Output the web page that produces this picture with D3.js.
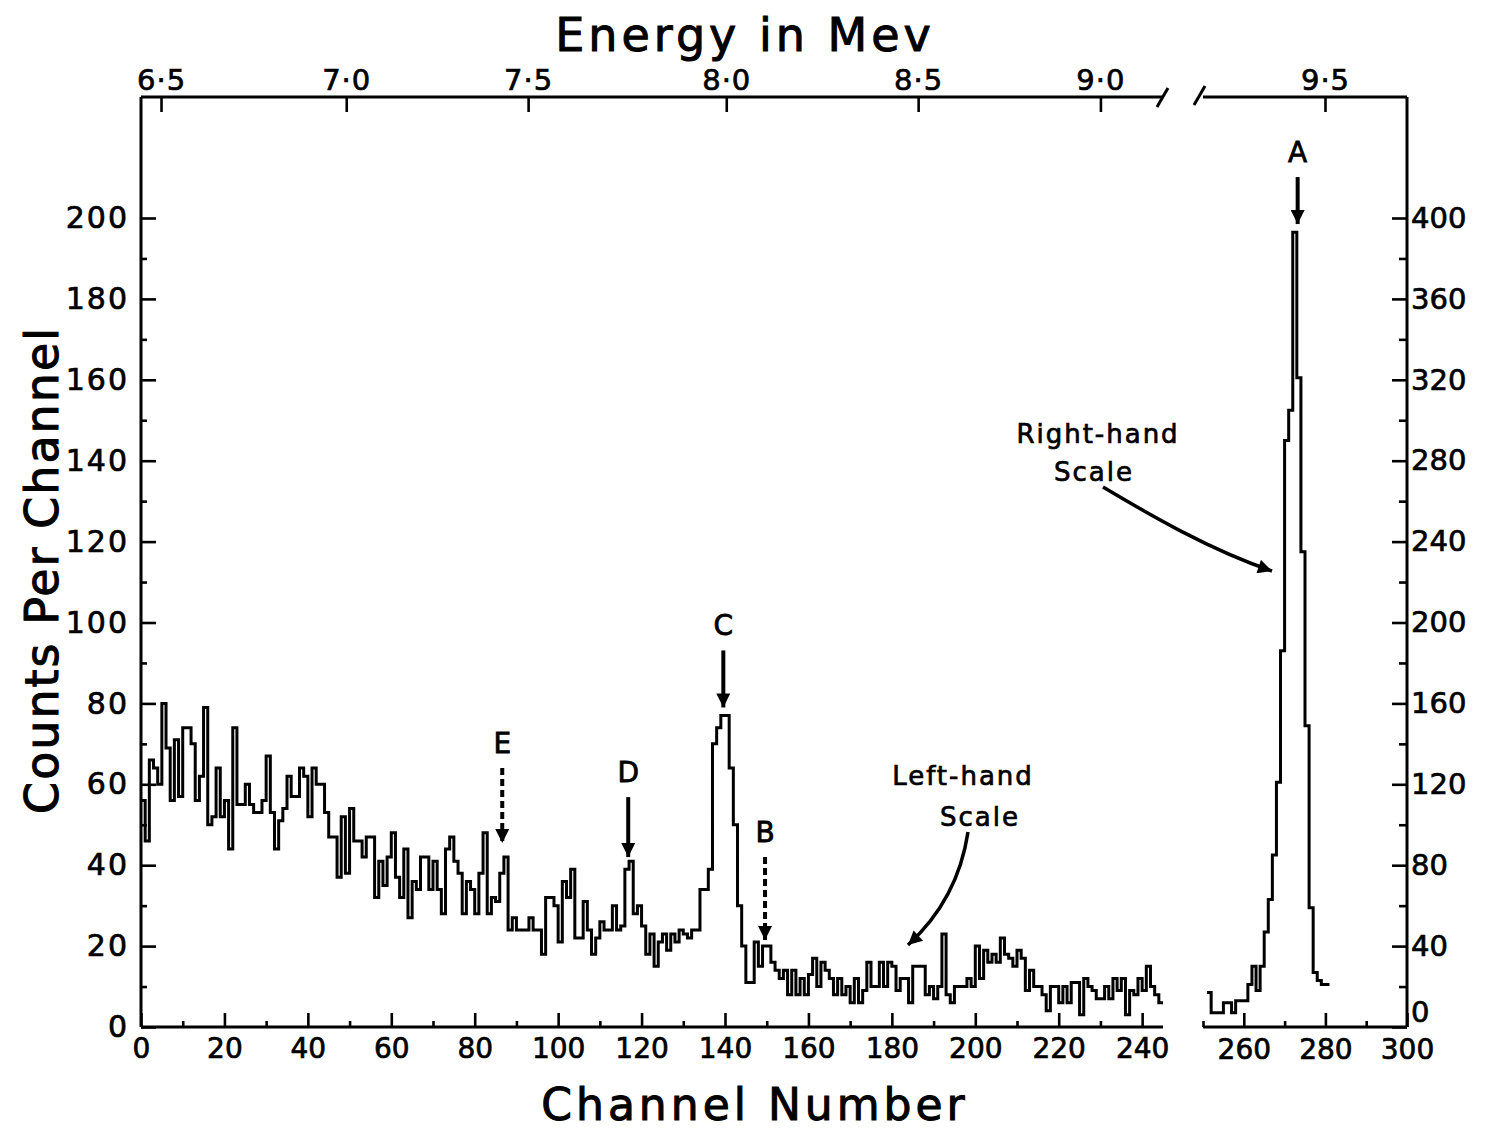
<!DOCTYPE html>
<html>
<head>
<meta charset="utf-8">
<script src="https://cdn.jsdelivr.net/npm/d3@7"></script>
<style>
  body { margin: 0; background: #fff; }
  svg text { font-family: "DejaVu Sans", sans-serif; fill: #000; }
</style>
</head>
<body>
<div id="chart"></div>
<script>
// counts per channel, channels 0-244 (left-hand scale)
var leftCounts = [
  56, 46, 66, 64, 60, 80, 69, 56, 71, 57,
  74, 74, 70, 56, 62, 79, 50, 52, 64, 52,
  56, 44, 74, 55, 55, 60, 55, 53, 53, 56,
  67, 53, 44, 51, 54, 62, 57, 57, 64, 62,
  52, 64, 60, 60, 53, 47, 47, 37, 52, 38,
  54, 46, 46, 42, 47, 47, 32, 41, 35, 42,
  48, 37, 32, 44, 27, 36, 34, 42, 42, 34,
  41, 34, 28, 44, 47, 41, 38, 28, 36, 34,
  28, 38, 48, 28, 32, 31, 38, 42, 24, 27,
  24, 24, 24, 27, 24, 24, 18, 32, 32, 30,
  21, 36, 32, 39, 22, 22, 31, 24, 18, 22,
  26, 24, 24, 30, 24, 25, 39, 41, 28, 30,
  25, 18, 23, 15, 21, 23, 19, 23, 21, 24,
  23, 22, 24, 24, 34, 34, 39, 70, 74, 77,
  77, 64, 50, 30, 20, 11, 11, 21, 15, 20,
  20, 16, 14, 12, 14, 8, 14, 8, 12, 8,
  13, 17, 10, 16, 14, 12, 8, 12, 8, 10,
  6, 12, 6, 9, 16, 10, 10, 16, 10, 16,
  15, 9, 12, 12, 6, 15, 15, 15, 8, 10,
  7, 10, 23, 8, 6, 10, 10, 10, 12, 10,
  20, 12, 19, 16, 18, 16, 22, 18, 17, 15,
  19, 17, 9, 14, 10, 10, 8, 4, 10, 10,
  6, 10, 6, 11, 11, 3, 12, 10, 9, 7,
  7, 10, 7, 12, 9, 12, 3, 9, 8, 12,
  9, 15, 10, 8, 6
];

// counts per channel, channels 251-280 (right-hand scale)
var rightFirstChannel = 251;
var rightCounts = [
  17, 7, 7, 7, 12, 12, 7, 13, 13, 13,
  21, 30, 18, 30, 47, 63, 85, 121, 186, 290,
  305, 393, 321, 235, 149, 59, 27, 23, 21, 21
];

var leftTicks = d3.range(0, 201, 20);
var rightTicks = d3.range(0, 401, 40);
var channelTicksLeft = d3.range(0, 241, 20);
var channelTicksRight = [260, 280, 300];

var energyValues = [6.5, 7.0, 7.5, 8.0, 8.5, 9.0, 9.5];
var energyLabels = ["6·5", "7·0", "7·5", "8·0", "8·5", "9·0", "9·5"];
var energyChannels = [4.8, 49.2, 92.8, 140.3, 186.3, 230.0, 279.9];

var peakNames = ["A", "B", "C", "D", "E"];
var peakChannels = [273.2, 149.6, 139.6, 116.8, 86.6];
var peakTips = [397, 21.5, 79, 42, 45.5];   // A is read on the right-hand scale
var peakDashed = [false, true, false, false, true];

var width = 1491, height = 1130;
var plot = { left: 141, right: 1407, top: 97, bottom: 1027, breakL: 1163, breakR: 1203 };

var svg = d3.select("#chart").append("svg")
    .attr("width", width)
    .attr("height", height);

// scales (broken channel axis)
var xL = d3.scaleLinear().domain([0, 245]).range([plot.left, plot.breakL]);
var xR = d3.scaleLinear().domain([250, 300]).range([plot.breakR, plot.right]);
var yL = d3.scaleLinear().domain([0, 200]).range([plot.bottom, 218]);
var yR = d3.scaleLinear().domain([0, 400]).range([plot.bottom, 218]);

var xE = d3.scaleLinear()
    .domain(energyValues)
    .range(energyChannels.map(function(c) { return c < 250 ? xL(c) : xR(c); }));

function tidy(g, size) {
  g.select(".domain").remove();
  g.attr("font-family", "DejaVu Sans, sans-serif").attr("font-size", size);
  g.selectAll("line").attr("stroke", "#000").attr("stroke-width", 2.6);
  g.selectAll("text").attr("fill", "#000").attr("stroke", "#000").attr("stroke-width", 0.7);
}

// left axis
svg.append("g").attr("transform", "translate(" + plot.left + ",0)")
    .call(d3.axisLeft(yL).tickValues(d3.range(10, 200, 20)).tickSize(-6).tickFormat(""))
    .call(tidy, 30);
svg.append("g").attr("transform", "translate(" + plot.left + ",0)")
    .call(d3.axisLeft(yL).tickValues(leftTicks).tickSize(-15).tickPadding(12))
    .call(tidy, 30)
    .selectAll("text").attr("letter-spacing", 2);

// right axis
svg.append("g").attr("transform", "translate(" + plot.right + ",0)")
    .call(d3.axisRight(yR).tickValues(d3.range(20, 400, 40)).tickSize(-8).tickFormat(""))
    .call(tidy, 29);
var rAxis = svg.append("g").attr("transform", "translate(" + plot.right + ",0)")
    .call(d3.axisRight(yR).tickValues(rightTicks).tickSize(-15).tickPadding(4))
    .call(tidy, 29);
rAxis.selectAll("text")
    .filter(function(d) { return d === 0; }).attr("dy", "-0.2em");

// bottom axis, left part
svg.append("g").attr("transform", "translate(0," + plot.bottom + ")")
    .call(d3.axisBottom(xL).tickValues(d3.range(10, 240, 20)).tickSize(-6).tickFormat(""))
    .call(tidy, 28);
svg.append("g").attr("transform", "translate(0," + plot.bottom + ")")
    .call(d3.axisBottom(xL).tickValues(channelTicksLeft).tickSize(-14).tickPadding(11))
    .call(tidy, 28);

// bottom axis, right part
svg.append("g").attr("transform", "translate(0," + plot.bottom + ")")
    .call(d3.axisBottom(xR).tickValues([250, 270, 290]).tickSize(-6).tickFormat(""))
    .call(tidy, 28);
svg.append("g").attr("transform", "translate(0," + plot.bottom + ")")
    .call(d3.axisBottom(xR).tickValues(channelTicksRight).tickSize(-14).tickPadding(12))
    .call(tidy, 28);

// energy axis on top
svg.append("g").attr("transform", "translate(0," + plot.top + ")")
    .call(d3.axisTop(xE).tickValues(energyValues)
      .tickFormat(function(d, i) { return energyLabels[i]; })
      .tickSize(-15).tickPadding(7))
    .call(tidy, 29)
    .selectAll("text").attr("letter-spacing", 1);

// frame with breaks
var frame = [
  [[plot.left, plot.top], [plot.left, plot.bottom]],
  [[plot.right, plot.top], [plot.right, plot.bottom]],
  [[plot.left, plot.bottom], [plot.breakL, plot.bottom]],
  [[plot.breakR, plot.bottom], [plot.right, plot.bottom]],
  [[plot.left, plot.top], [1162, plot.top]],
  [[1203, plot.top], [plot.right, plot.top]],
  [[1157, 107], [1168, 88]],
  [[1194, 105], [1205, 86]]
];
svg.selectAll(".frame")
  .data(frame)
  .enter()
  .append("path")
    .attr("class", "frame")
    .attr("d", d3.line())
    .attr("fill", "none")
    .attr("stroke", "#000")
    .attr("stroke-width", 3);

// histograms
var step = d3.line().curve(d3.curveStepAfter);

var leftPts = leftCounts.map(function(v, i) { return [xL(i), yL(v)]; });
leftPts.push([xL(leftCounts.length), yL(leftCounts[leftCounts.length - 1])]);

var rightPts = rightCounts.map(function(v, i) { return [xR(rightFirstChannel + i), yR(v)]; });
rightPts.push([xR(rightFirstChannel + rightCounts.length), yR(rightCounts[rightCounts.length - 1])]);

svg.append("path").attr("d", step(leftPts))
    .attr("fill", "none").attr("stroke", "#000").attr("stroke-width", 3);
svg.append("path").attr("d", step(rightPts))
    .attr("fill", "none").attr("stroke", "#000").attr("stroke-width", 3);

// arrowhead
svg.append("defs").append("marker")
    .attr("id", "head")
    .attr("viewBox", "0 0 10 10")
    .attr("refX", 10).attr("refY", 5)
    .attr("markerUnits", "userSpaceOnUse")
    .attr("markerWidth", 17).attr("markerHeight", 14)
    .attr("orient", "auto")
  .append("path")
    .attr("d", "M0,0L10,5L0,10z")
    .attr("fill", "#000");

// peak markers
var arrowLen = [47, 83, 57, 60, 75];
peakNames.forEach(function(name, i) {
  var ch = peakChannels[i];
  var x = ch < 250 ? xL(ch) : xR(ch);
  var tip = ch < 250 ? yL(peakTips[i]) : yR(peakTips[i]);
  var tail = tip - arrowLen[i];
  svg.append("line")
      .attr("x1", x).attr("x2", x)
      .attr("y1", tail).attr("y2", tip)
      .attr("stroke", "#000")
      .attr("stroke-width", 4)
      .attr("stroke-dasharray", peakDashed[i] ? "7,4" : null)
      .attr("marker-end", "url(#head)");
  svg.append("text")
      .attr("x", x).attr("y", tail - 15)
      .attr("text-anchor", "middle")
      .attr("font-size", 28)
      .attr("stroke", "#000").attr("stroke-width", 0.8)
      .text(name);
});

// scale notes
function note(lines, xs, ys) {
  lines.forEach(function(t, i) {
    svg.append("text")
        .attr("x", xs[i]).attr("y", ys[i])
        .attr("text-anchor", "middle")
        .attr("font-size", 26)
        .attr("letter-spacing", 2)
        .attr("stroke", "#000").attr("stroke-width", 0.7)
        .text(t);
  });
}
note(["Right-hand", "Scale"], [1098, 1094], [443, 481]);
note(["Left-hand", "Scale"], [963, 980], [785, 826]);

svg.append("path")
    .attr("d", "M1103,487 C1150,515 1210,550 1272,571")
    .attr("fill", "none").attr("stroke", "#000").attr("stroke-width", 3.5)
    .attr("marker-end", "url(#head)");
svg.append("path")
    .attr("d", "M968,832 C962,872 944,912 908,945")
    .attr("fill", "none").attr("stroke", "#000").attr("stroke-width", 3.5)
    .attr("marker-end", "url(#head)");

// titles
svg.append("text")
    .attr("x", 745).attr("y", 51)
    .attr("text-anchor", "middle")
    .attr("font-size", 46)
    .attr("letter-spacing", 4)
    .attr("stroke", "#000").attr("stroke-width", 1)
    .text("Energy in Mev");

svg.append("text")
    .attr("x", 755).attr("y", 1120)
    .attr("text-anchor", "middle")
    .attr("font-size", 44)
    .attr("letter-spacing", 4)
    .attr("stroke", "#000").attr("stroke-width", 1)
    .text("Channel Number");

svg.append("text")
    .attr("transform", "translate(58,570) rotate(-90)")
    .attr("text-anchor", "middle")
    .attr("font-size", 46)
    .attr("letter-spacing", 2)
    .attr("stroke", "#000").attr("stroke-width", 1)
    .text("Counts Per Channel");
</script>
</body>
</html>
